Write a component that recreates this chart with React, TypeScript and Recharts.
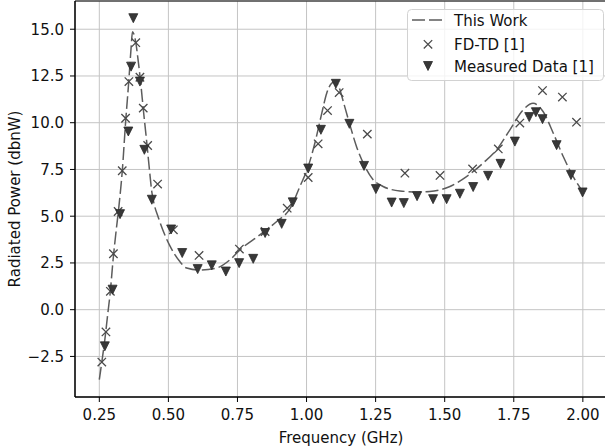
import React from 'react';
import {
  ComposedChart,
  Line,
  Scatter,
  XAxis,
  YAxis,
  CartesianGrid,
  Legend,
  Label,
  ReferenceArea,
} from 'recharts';

// "This Work" model curve
const curveX = [
  0.25, 0.26, 0.27, 0.28, 0.29, 0.3, 0.31, 0.32, 0.333, 0.345, 0.357, 0.365, 0.37, 0.375,
  0.382, 0.39, 0.4, 0.41, 0.42, 0.43, 0.44, 0.45, 0.462, 0.49, 0.506, 0.54, 0.566, 0.614, 0.675,
  0.723, 0.759, 0.831, 0.892, 0.94, 0.976, 1.006, 1.03, 1.055, 1.073, 1.09, 1.103, 1.12,
  1.133, 1.157, 1.181, 1.211, 1.241, 1.277, 1.338, 1.404, 1.446, 1.519, 1.579, 1.639, 1.688,
  1.736, 1.784, 1.82, 1.856, 1.893, 1.929, 1.965, 2.0,
];
const curveY = [
  -3.74, -2.7, -1.6, -0.3, 1.0, 2.7, 4.1, 5.4, 7.4, 10.0, 12.3, 14.0, 14.87, 14.75,
  14.3, 13.4, 12.1, 10.6, 9.2, 7.7, 6.3, 5.55, 5.0, 3.9, 3.4, 2.6, 2.23, 2.12, 2.23,
  2.67, 3.2, 4.0, 4.72, 5.4, 6.59, 7.66, 8.9, 10.5, 11.58, 12.1, 12.2, 11.8,
  11.13, 9.88, 8.72, 7.66, 6.95, 6.59, 6.35, 6.3, 6.32, 6.59, 7.12, 7.84, 8.55,
  9.62, 10.69, 11.04, 10.6, 9.44, 8.19, 7.12, 6.3,
];

// FD-TD [1]
const fdtdX = [
  0.259, 0.274, 0.29, 0.301, 0.318, 0.333, 0.345, 0.357, 0.382, 0.397, 0.409, 0.425, 0.461,
  0.518, 0.611, 0.757, 0.85, 0.93, 1.006, 1.042, 1.076, 1.118, 1.22, 1.356, 1.483, 1.601,
  1.694, 1.772, 1.854, 1.926, 1.977,
];
const fdtdY = [
  -2.8, -1.19, 0.98, 2.99, 5.25, 7.43, 10.24, 12.2, 14.28, 12.43, 10.78, 8.78, 6.72,
  4.27, 2.9, 3.24, 4.18, 5.43, 7.07, 8.87, 10.65, 11.61, 9.39, 7.3, 7.18, 7.53,
  8.6, 9.98, 11.72, 11.37, 10.03,
];

// Measured Data [1]
const measuredX = [
  0.27, 0.298, 0.325, 0.355, 0.365, 0.373, 0.397, 0.413, 0.44, 0.51, 0.55, 0.606, 0.657,
  0.708, 0.756, 0.807, 0.85, 0.91, 0.95, 1.006, 1.052, 1.106, 1.155, 1.208, 1.251, 1.308,
  1.352, 1.4, 1.458, 1.507, 1.555, 1.603, 1.657, 1.702, 1.754, 1.806, 1.83, 1.854, 1.905,
  1.957, 1.999,
];
const measuredY = [
  -1.96, 1.07, 5.11, 9.53, 13.0, 15.59, 12.2, 8.55, 5.88, 4.29, 3.03, 2.17, 2.37,
  2.04, 2.49, 2.72, 4.1, 4.59, 5.74, 7.55, 9.62, 12.08, 9.94, 7.69, 6.45, 5.73,
  5.7, 6.07, 5.91, 5.91, 6.2, 6.56, 7.16, 7.8, 8.99, 10.3, 10.56, 10.19, 8.8,
  7.2, 6.27,
];

const xTicks = [0.25, 0.5, 0.75, 1.0, 1.25, 1.5, 1.75, 2.0];
const yTicks = [-2.5, 0, 2.5, 5, 7.5, 10, 12.5, 15];
const seriesNames = ['This Work', 'FD-TD [1]', 'Measured Data [1]'];

const X_MIN = 0.162;
const X_MAX = 2.1055;
const Y_MIN = -4.67;
const Y_MAX = 16.51;

const FONT = '"DejaVu Sans", sans-serif';
const LINE_COLOR = '#5c5c5c';
const X_COLOR = '#4a4a4a';
const TRI_COLOR = '#383838';

const curve = curveX.map((x, i) => ({ x, y: curveY[i] }));
const fdtd = fdtdX.map((x, i) => ({ x, y: fdtdY[i] }));
const measured = measuredX.map((x, i) => ({ x, y: measuredY[i] }));

const fmtY = (v: number) => (v < 0 ? '\u2212' + Math.abs(v).toFixed(1) : v.toFixed(1));

const XMark = ({ cx, cy }: any) => (
  <path
    d={`M${cx - 4.2},${cy - 4.2}L${cx + 4.2},${cy + 4.2}M${cx - 4.2},${cy + 4.2}L${cx + 4.2},${cy - 4.2}`}
    stroke={X_COLOR}
    strokeWidth={1.3}
    fill="none"
  />
);

const Tri = ({ cx, cy }: any) => (
  <path
    d={`M${cx - 4.5},${cy - 4.5}L${cx + 4.5},${cy - 4.5}L${cx},${cy + 4.5}Z`}
    fill={TRI_COLOR}
    stroke="#2a2a2a"
    strokeWidth={0.8}
  />
);

const renderLegend = () => (
  <svg width={198} height={73} style={{ display: 'block', fontFamily: FONT, fontSize: 15 }}>
    <rect x={0.5} y={0.5} width={196} height={71} rx={4} fill="rgba(255,255,255,0.8)" stroke="#d2d2d2" />
    <line x1={5} x2={36} y1={11} y2={11} stroke={LINE_COLOR} strokeWidth={1.5} strokeDasharray="13 4" />
    <text x={47} y={16.5} fill="#111">{seriesNames[0]}</text>
    <XMark cx={21} cy={35.3} />
    <text x={47} y={40.8} fill="#111">{seriesNames[1]}</text>
    <Tri cx={21} cy={57} />
    <text x={47} y={62.5} fill="#111">{seriesNames[2]}</text>
  </svg>
);

export default function App() {
  return (
    <div
      style={{
        position: 'absolute',
        left: 0,
        top: 0,
        width: 605,
        height: 447,
        overflow: 'hidden',
        background: '#fff',
        fontFamily: FONT,
      }}
    >
      <ComposedChart
        width={630}
        height={447}
        data={curve}
        margin={{ top: 1, right: 18, left: 0, bottom: 0 }}
      >
        <CartesianGrid stroke="#c4c4c4" strokeWidth={1} />
        <XAxis
          dataKey="x"
          type="number"
          domain={[X_MIN, X_MAX]}
          allowDataOverflow
          ticks={xTicks}
          tickFormatter={(v: number) => v.toFixed(2)}
          height={50}
          tickSize={5}
          tickMargin={7}
          axisLine={{ stroke: '#000' }}
          tickLine={{ stroke: '#000' }}
          tick={{ fill: '#111', fontSize: 15, fontFamily: FONT }}
        >
          <Label
            content={() => (
              <text x={341} y={443} textAnchor="middle" fill="#111" fontSize={15} fontFamily={FONT}>
                Frequency (GHz)
              </text>
            )}
          />
        </XAxis>
        <YAxis
          type="number"
          domain={[Y_MIN, Y_MAX]}
          allowDataOverflow
          ticks={yTicks}
          tickFormatter={fmtY}
          width={75}
          tickSize={5}
          tickMargin={6}
          axisLine={{ stroke: '#000' }}
          tickLine={{ stroke: '#000' }}
          tick={{ fill: '#111', fontSize: 15, fontFamily: FONT }}
        >
          <Label
            content={({ viewBox }: any) => (
              <text
                x={15}
                y={viewBox.y + viewBox.height / 2}
                textAnchor="middle"
                dominantBaseline="central"
                transform={`rotate(-90, 15, ${viewBox.y + viewBox.height / 2})`}
                fill="#111"
                fontSize={15}
                fontFamily={FONT}
              >
                Radiated Power (dbnW)
              </text>
            )}
          />
        </YAxis>
        <Legend
          layout="vertical"
          align="center"
          verticalAlign="middle"
          content={renderLegend}
          wrapperStyle={{ position: 'absolute', left: 407, top: 9, width: 198, height: 73 }}
        />
        <Line
          name={seriesNames[0]}
          dataKey="y"
          type="monotone"
          stroke={LINE_COLOR}
          strokeWidth={1.5}
          strokeDasharray="13 4"
          dot={false}
          activeDot={false}
          isAnimationActive={false}
        />
        <Scatter
          name={seriesNames[1]}
          data={fdtd}
          dataKey="y"
          shape={XMark}
          isAnimationActive={false}
        />
        <Scatter
          name={seriesNames[2]}
          data={measured}
          dataKey="y"
          shape={Tri}
          isAnimationActive={false}
        />
        <ReferenceArea
          x1={X_MIN}
          x2={X_MAX}
          y1={Y_MIN}
          y2={Y_MAX}
          fill="none"
          stroke="#000"
          strokeWidth={1}
          ifOverflow="visible"
        />
      </ComposedChart>
    </div>
  );
}
